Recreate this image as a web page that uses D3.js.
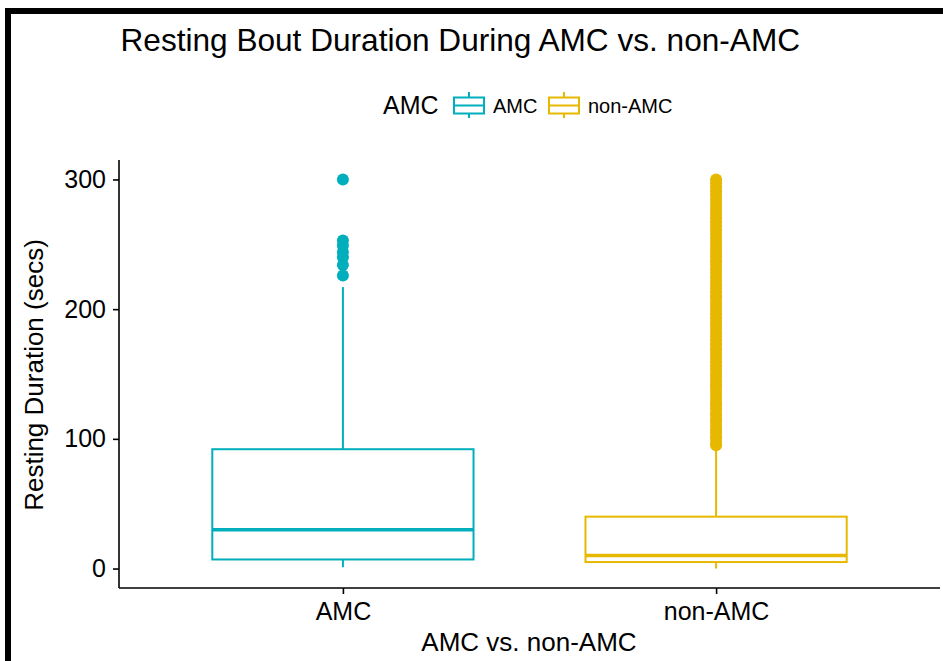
<!DOCTYPE html>
<html><head><meta charset="utf-8">
<script src="https://cdn.jsdelivr.net/npm/d3@7"></script>
<style>body{margin:0;background:#fff}svg{display:block}text{font-family:"Liberation Sans",Arial,sans-serif;fill:#000}</style>
</head><body><svg id="c" width="943" height="661"></svg>
<script>
const categories = ["AMC", "non-AMC"];
const colors = ["#00AFBB", "#E7B800"];
// box stats: [lowWhisker, q1, median, q3, highWhisker]
const amcStats = [1, 7, 30, 92, 217];
const nonAmcStats = [0, 5, 10, 40, 92];
const amcOutliers = [300, 253, 249, 244, 240, 234, 226];
const nonAmcOutliers = [95, 97, 100, 102, 105, 107, 110, 113, 115, 118, 120, 123, 126, 128, 131, 134, 137, 140, 142, 145, 148, 150, 153, 156, 159, 162, 165, 168, 170, 173, 176, 179, 182, 185, 188, 190, 193, 196, 199, 202, 205, 208, 210, 213, 216, 219, 222, 225, 228, 231, 234, 237, 240, 243, 246, 249, 252, 255, 258, 261, 264, 267, 270, 273, 276, 279, 282, 285, 288, 291, 294, 297, 300];
const yTicks = [0, 100, 200, 300];

const svg = d3.select("#c");
// frame (left and top edges of the screenshot border)
svg.append("rect").attr("x",5).attr("y",8).attr("width",938).attr("height",6).attr("fill","#000");
svg.append("rect").attr("x",5).attr("y",8).attr("width",6).attr("height",653).attr("fill","#000");

const x = d3.scalePoint().domain(categories).range([119, 940]).padding(0.6);
const y = d3.scaleLinear().domain([-15, 315]).range([588, 160]);
const step = x.step();
const bw = step * 0.7;

const series = [
  {cat: categories[0], stats: amcStats, out: amcOutliers, color: colors[0]},
  {cat: categories[1], stats: nonAmcStats, out: nonAmcOutliers, color: colors[1]}
];

const g = svg.append("g");
series.forEach(s => {
  const cx = x(s.cat), [lo, q1, med, q3, hi] = s.stats;
  g.append("line").attr("x1",cx).attr("x2",cx).attr("y1",y(q3)).attr("y2",y(hi)).attr("stroke",s.color).attr("stroke-width",2);
  g.append("line").attr("x1",cx).attr("x2",cx).attr("y1",y(q1)).attr("y2",y(lo)).attr("stroke",s.color).attr("stroke-width",2);
  g.append("rect").attr("x",cx-bw/2).attr("y",y(q3)).attr("width",bw).attr("height",y(q1)-y(q3))
    .attr("fill","#fff").attr("stroke",s.color).attr("stroke-width",2);
  g.append("line").attr("x1",cx-bw/2).attr("x2",cx+bw/2).attr("y1",y(med)).attr("y2",y(med)).attr("stroke",s.color).attr("stroke-width",3.5);
  g.selectAll(null).data(s.out).enter().append("circle")
    .attr("cx",cx).attr("cy",d=>y(d)).attr("r",6).attr("fill",s.color);
});

// axes
const ya = svg.append("g").attr("transform","translate(119,0)")
  .call(d3.axisLeft(y).tickValues(yTicks).tickSize(6).tickPadding(7));
ya.select(".domain").attr("d","M0,160V588");
const xa = svg.append("g").attr("transform","translate(0,588)")
  .call(d3.axisBottom(x).tickSize(6).tickPadding(8));
xa.select(".domain").attr("d","M119,0H940");
[ya, xa].forEach(a => {
  a.select(".domain").attr("stroke","#000").attr("stroke-width",1.6);
  a.selectAll(".tick line").attr("stroke","#000").attr("stroke-width",1.6);
  a.selectAll(".tick text").attr("font-size",25).attr("fill","#000").attr("font-family",'"Liberation Sans",Arial,sans-serif');
});
xa.selectAll(".tick text").attr("dy","0.72em");

// titles
svg.append("text").attr("x",120.5).attr("y",51).attr("font-size",31.6).text("Resting Bout Duration During AMC vs. non-AMC");
svg.append("text").attr("x",529).attr("y",651).attr("text-anchor","middle").attr("font-size",26).text("AMC vs. non-AMC");
svg.append("text").attr("transform","translate(43,375) rotate(-90)").attr("text-anchor","middle").attr("font-size",26).text("Resting Duration (secs)");

// legend
const leg = svg.append("g");
leg.append("text").attr("x",383).attr("y",113.5).attr("font-size",25).text("AMC");
const keyX = [453, 548], labX = [493, 588];
categories.forEach((c,i) => {
  const k = leg.append("g").attr("transform",`translate(${keyX[i]},0)`);
  k.append("line").attr("x1",16).attr("x2",16).attr("y1",92).attr("y2",118).attr("stroke",colors[i]).attr("stroke-width",2);
  k.append("rect").attr("x",1).attr("y",97.5).attr("width",30).attr("height",16).attr("fill","#fff").attr("stroke",colors[i]).attr("stroke-width",2);
  k.append("line").attr("x1",1).attr("x2",31).attr("y1",105.5).attr("y2",105.5).attr("stroke",colors[i]).attr("stroke-width",2);
  leg.append("text").attr("x",labX[i]).attr("y",112.5).attr("font-size",20).text(c);
});
</script></body></html>
